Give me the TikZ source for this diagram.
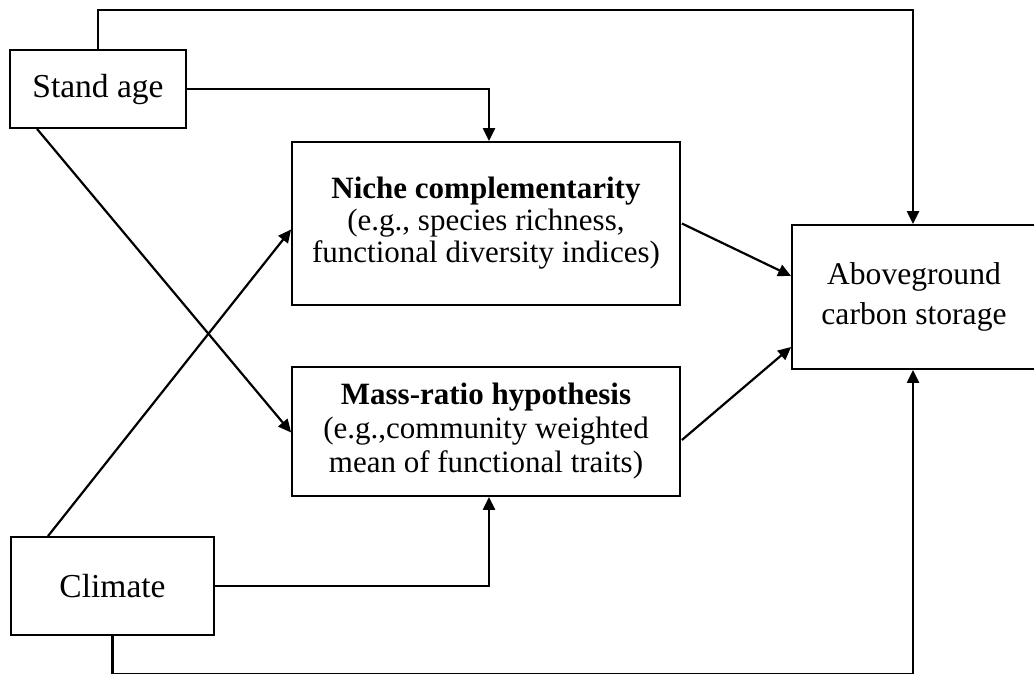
\documentclass[tikz,border=0pt]{standalone}
\usepackage{fontspec}
\setmainfont{Liberation Serif}
\usetikzlibrary{arrows.meta}
\tikzset{
  box/.style={draw, line width=1.8pt, align=center, inner sep=0pt},
  arr/.style={line width=2.2pt, -{Triangle[length=13pt,width=12pt]}},
  bigtext/.style={font=\fontsize{33.5}{36}\selectfont}
}
\begin{document}
\begin{tikzpicture}[x=1pt,y=-1pt]
\useasboundingbox (0,0) rectangle (1034,674);
\node[box, bigtext, minimum width=176pt, minimum height=78pt] (sa) at (98,89) {Stand age};
\node[box, font=\fontsize{31}{32}\selectfont, minimum width=388pt, minimum height=163pt] (nc) at (486,223.5)
  {\textbf{Niche complementarity}\\(e.g., species richness,\\functional diversity indices)};
\node[box, font=\fontsize{31}{34}\selectfont, minimum width=388pt, minimum height=129pt] (mr) at (486,431.5)
  {\textbf{Mass-ratio hypothesis}\\(e.g.,community weighted\\mean of functional traits)};
\node[box, bigtext, minimum width=203pt, minimum height=98pt] (cl) at (112.5,586) {Climate};
\node[box, font=\fontsize{31.6}{40}\selectfont, minimum width=244pt, minimum height=144pt] (ag) at (914,297)
  {Aboveground\\carbon storage};
% connectors
\draw[arr] (sa.north) -- ++(0,-39) -| ([xshift=-1pt]ag.north);
\draw[arr] (sa.east) -| ([xshift=3pt]nc.north);
\draw[arr] ([xshift=-61pt]sa.south) -- ([yshift=-1pt]mr.west);
\draw[arr] ([xshift=-64.5pt]cl.north) -- ([yshift=-6pt]nc.west);
\draw[arr] (cl.east) -| ([xshift=3pt]mr.south);
\draw[arr] (cl.south) -- ++(0,38) -| ([xshift=-1pt]ag.south);
\draw[arr] ([xshift=1pt]nc.east) -- ([yshift=21pt]ag.west);
\draw[arr] ([xshift=1pt,yshift=-8.5pt]mr.east) -- ([yshift=-50pt]ag.west);
\end{tikzpicture}
\end{document}
